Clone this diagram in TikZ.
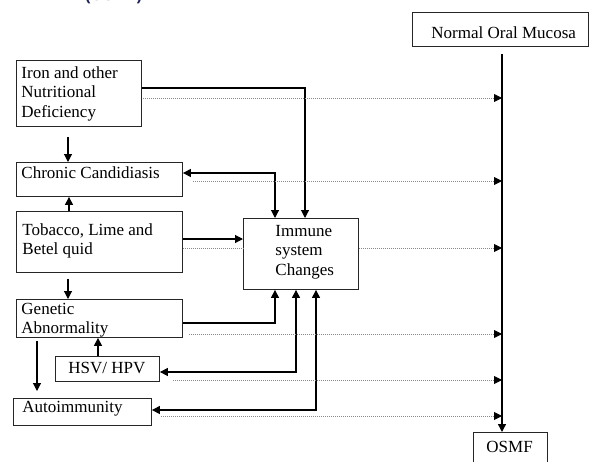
\documentclass[tikz,border=0pt]{standalone}
\usepackage{fontspec}
\setmainfont{Liberation Serif}
\newfontfamily\titlesans{Liberation Sans}
\usetikzlibrary{arrows.meta,calc}
\definecolor{navy}{HTML}{1F2457}
\definecolor{dotgray}{HTML}{8A8A8A}
\newcommand{\bxt}[5]{\parbox[c][#2][t]{#1}{\raggedright\leftskip=#4\relax\rule{0pt}{#3}#5\par}}
\begin{document}
\begin{tikzpicture}[x=1pt,y=-1pt,
  box/.style={draw=black!85, line width=0.9pt, inner sep=0pt, anchor=north west,
    font=\fontsize{17}{19.5}\selectfont},
  conn/.style={draw=black, line width=1.1pt},
  arr/.style={conn, -{Triangle[length=8pt,width=8pt]}},
  darr/.style={conn, {Triangle[length=8pt,width=8pt]}-{Triangle[length=8pt,width=8pt]}},
  dotl/.style={draw=dotgray, line width=0.9pt, dash pattern=on 1pt off 1pt},
  dotarr/.style={dotl, -{Triangle[length=8pt,width=8pt,color=black]}}]
\useasboundingbox (0,0) rectangle (589,461);
\clip (0,0) rectangle (589,461);

% title fragment (cut off at the top, as in the reference)
\node[anchor=base west, inner sep=0pt, text=navy,
  font=\titlesans\bfseries\fontsize{16}{18}\selectfont] (title) at (85,0.8) {(OSMF)};

% boxes
\node[box] (iron) at (16,60) {\bxt{125pt}{66pt}{18pt}{5pt}{Iron and other\\Nutritional\\Deficiency}};
\node[box] (chronic) at (16,162) {\bxt{166pt}{34pt}{16pt}{5pt}{Chronic Candidiasis}};
\node[box] (tobacco) at (16,211) {\bxt{166pt}{61pt}{24pt}{6pt}{Tobacco, Lime and\\Betel quid}};
\node[box] (genetic) at (16,299) {\bxt{166pt}{38pt}{15pt}{5pt}{Genetic\\Abnormality}};
\node[box] (hsv) at (55,356) {\bxt{104pt}{25pt}{17pt}{13pt}{HSV/ HPV}};
\node[box] (auto) at (13,398) {\bxt{138pt}{27pt}{14pt}{9pt}{Autoimmunity}};
\node[box] (immune) at (243,218) {\bxt{115pt}{71pt}{18pt}{32pt}{Immune\\system\\Changes}};
\node[box] (nom) at (412,12) {\bxt{176pt}{34pt}{26pt}{19pt}{Normal Oral Mucosa}};
\node[box] (osmf) at (473,432) {\bxt{74pt}{40pt}{20pt}{13pt}{OSMF}};

% main vertical axis
\coordinate (vt) at ($(nom.south west)+(90,7)$);
\draw[arr, line width=1.3pt] (vt) -- (vt |- osmf.north);

% solid connectors
\coordinate (i1) at ($(iron.north east)+(0,28)$);
\draw[arr] (i1) -| ($(immune.north west)+(62,0)$);
\coordinate (c1) at ($(chronic.north east)+(0,11)$);
\draw[darr] (c1) -| ($(immune.north west)+(32,0)$);
\draw[arr] ($(iron.south west)+(52,10)$) -- ($(chronic.north west)+(52,0)$);
\draw[arr] ($(tobacco.north west)+(53,0)$) -- ($(chronic.south west)+(53,0)$);
\coordinate (t1) at ($(tobacco.north east)+(0,28)$);
\draw[arr] (t1) -- (t1 -| immune.west);
\draw[arr] ($(tobacco.south west)+(52,6)$) -- ($(genetic.north west)+(52,0)$);
\coordinate (g1) at ($(genetic.north east)+(0,24)$);
\draw[arr] (g1) -| ($(immune.south west)+(32,0)$);
\coordinate (h1) at ($(hsv.north east)+(0,16)$);
\draw[darr] (h1) -| ($(immune.south west)+(53,0)$);
\coordinate (a1) at ($(auto.north east)+(0,12)$);
\draw[darr] (a1) -| ($(immune.south west)+(73,0)$);
\coordinate (h2) at ($(hsv.north west)+(43,0)$);
\draw[arr] (h2) -- (h2 |- genetic.south);
\draw[arr] ($(genetic.south west)+(21,3)$) -- ($(auto.north west)+(24,-7)$);

% dotted connectors to the axis
\coordinate (d1) at ($(iron.north east)+(1,38)$);
\draw[dotarr] (d1) -- (d1 -| vt);
\coordinate (d2) at ($(chronic.north east)+(10,19)$);
\draw[dotarr] (d2) -- (d2 -| vt);
\coordinate (d3) at ($(tobacco.north east)+(0,37)$);
\draw[dotl] (d3) -- (d3 -| immune.west);
\draw[dotarr] (d3 -| immune.east) -- (d3 -| vt);
\coordinate (d4) at ($(genetic.north east)+(6,35)$);
\draw[dotarr] (d4) -- (d4 -| vt);
\coordinate (d5) at ($(hsv.north east)+(13,24)$);
\draw[dotarr] (d5) -- (d5 -| vt);
\coordinate (d6) at ($(auto.north east)+(9,18)$);
\draw[dotarr] (d6) -- (d6 -| vt);
\end{tikzpicture}
\end{document}
